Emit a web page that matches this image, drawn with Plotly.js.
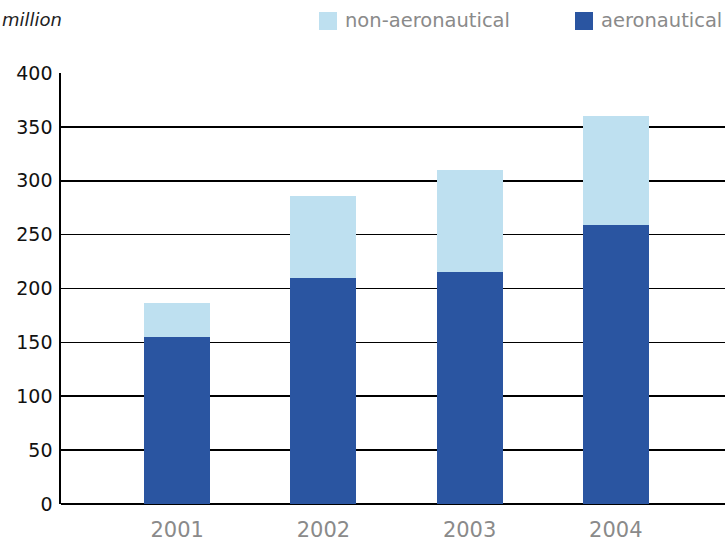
<!DOCTYPE html>
<html><head><meta charset="utf-8">
<script src="https://cdn.plot.ly/plotly-3.0.1.min.js"></script>
<style>body{margin:0}#c{width:725px;height:545px}</style>
</head><body><div id="c"></div>
<script>
var years = ['2001','2002','2003','2004'];
var aeronautical = [155, 210, 215, 259];
var nonAeronautical = [32, 76, 95, 101];
var seriesNames = ['aeronautical','non-aeronautical'];
var unitLabel = 'million';
var yTicks = [0,50,100,150,200,250,300,350,400];

var darkBlue = '#2a55a1', lightBlue = '#bee0f0';
var font = 'DejaVu Sans, sans-serif';

var traces = [
  {type:'bar', x:years, y:aeronautical, name:seriesNames[0], marker:{color:darkBlue}, width:0.451, showlegend:false, hoverinfo:'none'},
  {type:'bar', x:years, y:nonAeronautical, name:seriesNames[1], marker:{color:lightBlue}, width:0.451, showlegend:false, hoverinfo:'none'}
];

var layout = {
  width:725, height:545,
  margin:{l:61, r:0, t:73, b:41},
  barmode:'stack',
  paper_bgcolor:'white', plot_bgcolor:'white',
  font:{family:font},
  xaxis:{type:'category', range:[-0.795, 3.747], showgrid:false, zeroline:false, showline:false,
         ticks:'outside', ticklen:7, tickcolor:'rgba(0,0,0,0)',
         tickfont:{size:21, color:'#8a8a8a', family:font}},
  yaxis:{range:[0,400], tickvals:yTicks, showgrid:true, gridcolor:'#000', gridwidth:1.7,
         zeroline:true, zerolinecolor:'#000', zerolinewidth:1.7,
         showline:true, linecolor:'#000', linewidth:1.7,
         ticks:'', ticklabelstandoff:3,
         tickfont:{size:19, color:'#111', family:font}},
  shapes:[
    {type:'rect', xref:'paper', yref:'paper', x0:(319-61)/664, x1:(337-61)/664, y0:(504-30)/431, y1:(504-12)/431, fillcolor:lightBlue, line:{width:0}},
    {type:'rect', xref:'paper', yref:'paper', x0:(575-61)/664, x1:(593-61)/664, y0:(504-30)/431, y1:(504-12)/431, fillcolor:darkBlue, line:{width:0}}
  ],
  annotations:[
    {xref:'paper', yref:'paper', x:(0-61)/664, y:(504-20)/431, xanchor:'left', yanchor:'middle', text:unitLabel, showarrow:false,
     font:{size:18, color:'#222', family:font, style:'italic'}},
    {xref:'paper', yref:'paper', x:(343-61)/664, y:(504-21)/431, xanchor:'left', yanchor:'middle', text:seriesNames[1], showarrow:false,
     font:{size:19.5, color:'#8a8a8a', family:font}},
    {xref:'paper', yref:'paper', x:(599-61)/664, y:(504-21)/431, xanchor:'left', yanchor:'middle', text:seriesNames[0], showarrow:false,
     font:{size:19.5, color:'#8a8a8a', family:font}}
  ]
};
Plotly.newPlot('c', traces, layout, {staticPlot:true});
</script></body></html>
